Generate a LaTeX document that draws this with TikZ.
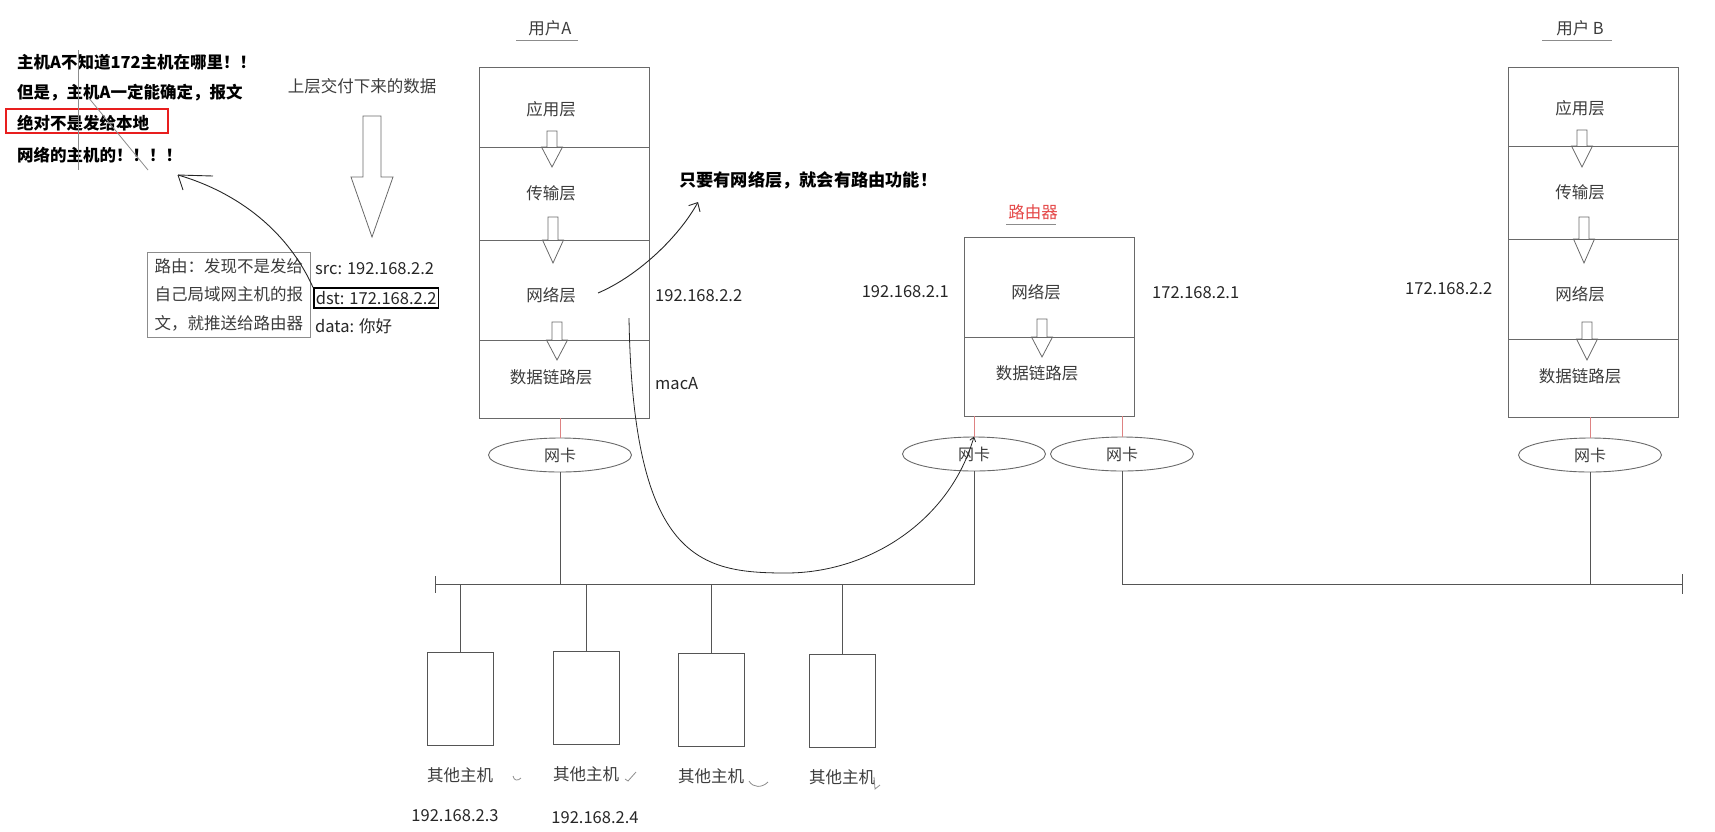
\documentclass[tikz,border=0pt]{standalone}
\usepackage{fontspec}
\setmainfont{Noto Sans CJK SC}
\usetikzlibrary{shapes.geometric}
\usetikzlibrary{positioning}
\usetikzlibrary{arrows.meta}
\definecolor{linegray}{RGB}{85,85,85}
\definecolor{boxgray}{RGB}{105,105,105}
\definecolor{txtgray}{RGB}{60,60,60}
\definecolor{nicred}{RGB}{222,130,130}
\definecolor{routered}{RGB}{228,72,72}
\definecolor{markred}{RGB}{232,30,30}
\tikzstyle{layer}=[draw=boxgray, line width=0.9pt, minimum width=170pt, inner sep=0pt]
\tikzstyle{lbl}=[inner sep=0pt, text=txtgray, font=\fontsize{16.5}{19}\selectfont]
\tikzstyle{ip}=[inner sep=0pt, text=black!85, font=\fontsize{16.5}{19}\selectfont]
\tikzstyle{note}=[inner sep=0pt, text=black, font=\bfseries\fontsize{16.5}{19}\selectfont]
\tikzstyle{nic}=[draw=boxgray, line width=0.9pt, ellipse, minimum width=143pt, minimum height=34pt, inner sep=0pt, text=txtgray, font=\fontsize{16}{19}\selectfont]
\tikzstyle{host}=[draw=linegray, line width=1pt, minimum width=66pt, minimum height=93pt, inner sep=0pt]
\tikzstyle{notebox}=[draw=black!45, line width=1pt, align=left, inner xsep=7pt, inner ysep=6pt, text=txtgray, font=\fontsize{16.5}{28.5}\selectfont]
\tikzstyle{wire}=[draw=linegray, line width=1pt]
\tikzstyle{redwire}=[draw=nicred, line width=0.9pt]
\tikzstyle{pen}=[draw=black!85, line width=0.9pt]
\tikzstyle{stray}=[draw=black!45, line width=0.8pt]
\tikzstyle{hollow}=[draw=boxgray, line width=0.8pt]
\newcommand{\hollowarrow}[6]{\draw[hollow] (#1-#5,#2) -- (#1+#5,#2) -- (#1+#5,#3) -- (#1+#6,#3) -- (#1,#4) -- (#1-#6,#3) -- (#1-#5,#3) -- cycle;}

\begin{document}
\begin{tikzpicture}[x=1pt, y=-1pt]
        \useasboundingbox (0,0) rectangle (1715,831);
        \node[note, anchor=west] (warn1) at (17,62)  {主机A不知道172主机在哪里！！};
        \node[note, anchor=west] (warn2) at (17,93)  {但是，主机A一定能确定，报文};
        \node[note, anchor=west] (warn3) at (17,123) {绝对不是发给本地};
        \node[note, anchor=west] (warn4) at (17,155) {网络的主机的！！！！};
        \draw[markred, line width=1.6pt] (6,109) rectangle (168,133);
        \draw[stray] (78,50) -- (78,170);
        \draw[stray] (88,97) -- (148,170);
        \node[lbl] (upper) at (362,86) {上层交付下来的数据};
        \hollowarrow{372}{116}{177}{237}{9}{21}
        \node[notebox, anchor=north west] (routing) at (147,252) {路由：发现不是发给\\自己局域网主机的报\\文，就推送给路由器};
        \node[ip, anchor=west] (src) at (315,269) {src: 192.168.2.2};
        \node[ip, anchor=west, draw=black, line width=1.8pt, inner xsep=2pt, inner ysep=3pt] (dst) at (313,298) {dst: 172.168.2.2};
        \node[ip, anchor=west] (data) at (315,326) {data: 你好};
        \coordinate (warntip) at (178,175);
        \draw[pen] (dst.north west) .. controls (285,225) and (230,190) .. (warntip);
        \draw[pen] (warntip) -- (213,176);
        \draw[pen] (warntip) -- (183,190);

        \node[lbl] (userA) at (550,28) {用户A};
        \draw[stray] ([xshift=-12pt,yshift=-5pt]userA.south west) -- ([xshift=6pt,yshift=-5pt]userA.south east);
        \node[layer, minimum height=80pt,  label={[lbl, xshift=-13pt, yshift=-2pt]center:应用层}]  (appA)   at (564,107)   {};
        \node[layer, minimum height=93pt,  label={[lbl, xshift=-13pt]center:传输层}]             (transA) at (564,193.5) {};
        \node[layer, minimum height=100pt, label={[lbl, xshift=-13pt, yshift=-5pt]center:网络层}]  (netA)   at (564,290)   {};
        \node[layer, minimum height=78pt,  label={[lbl, xshift=-13pt, yshift=2pt]center:数据链路层}] (linkA) at (564,379)   {};
        \hollowarrow{552}{131}{147}{167}{5}{10.5}
        \hollowarrow{553}{217}{240}{263}{5}{10.5}
        \hollowarrow{557}{322}{340}{360}{5}{10.5}
        \node[ip, anchor=west] (ipA)  at (655,296) {192.168.2.2};
        \node[ip, anchor=west] (macA) at (655,384) {macA};

        \node[note, anchor=west, font=\bfseries\fontsize{17.2}{19}\selectfont] (slogan) at (679,180) {只要有网络层，就会有路由功能！};
        \coordinate (netAout) at (598,293);
        \draw[pen, -{Straight Barb[length=7pt, width=13pt]}] (netAout) .. controls (640,275) and (680,235) .. ([xshift=19pt, yshift=-13pt]slogan.south west);

        \node[lbl, text=routered] (router) at (1033,212) {路由器};
        \draw[stray] ([xshift=-2pt,yshift=-5pt]router.south west) -- ([xshift=-2pt,yshift=-5pt]router.south east);
        \node[layer, minimum height=100pt, label={[lbl, xshift=-13pt, yshift=-5pt]center:网络层}]   (netR)  at (1049,287)   {};
        \node[layer, minimum height=79pt,  label={[lbl, xshift=-12pt, yshift=3pt]center:数据链路层}] (linkR) at (1049,376.5) {};
        \hollowarrow{1042}{319}{337}{357}{5}{10.5}
        \node[ip, anchor=east] (ipR1) at (949,292)  {192.168.2.1};
        \node[ip, anchor=west] (ipR2) at (1152,293) {172.168.2.1};

        \node[lbl] (userB) at (1580,28) {用户 B};
        \draw[stray] ([xshift=-14pt,yshift=-5pt]userB.south west) -- ([xshift=8pt,yshift=-5pt]userB.south east);
        \node[layer, minimum height=79pt,  label={[lbl, xshift=-13.5pt, yshift=-1.5pt]center:应用层}]  (appB)   at (1593.5,106.5) {};
        \node[layer, minimum height=93pt,  label={[lbl, xshift=-13.5pt]center:传输层}]               (transB) at (1593.5,192.5) {};
        \node[layer, minimum height=100pt, label={[lbl, xshift=-13.5pt, yshift=-5pt]center:网络层}]  (netB)   at (1593.5,289)   {};
        \node[layer, minimum height=78pt,  label={[lbl, xshift=-13.5pt, yshift=2pt]center:数据链路层}] (linkB) at (1593.5,378) {};
        \hollowarrow{1582}{130}{146}{167}{5}{10.5}
        \hollowarrow{1584}{217}{239}{263}{5}{10.5}
        \hollowarrow{1587}{322}{339}{360}{5}{10.5}
        \node[ip, anchor=west] (ipB) at (1405,289) {172.168.2.2};

        \node[nic] (nicA)  at (560,455)  {网卡};
        \node[nic] (nicR1) at (974,454)  {网卡};
        \node[nic] (nicR2) at (1122,454) {网卡};
        \node[nic] (nicB)  at (1590,455) {网卡};
        \draw[redwire] (nicA.north |- linkA.south) -- (nicA.north);
        \draw[redwire] (nicR1.north |- linkR.south) -- (nicR1.north);
        \draw[redwire] (nicR2.north |- linkR.south) -- (nicR2.north);
        \draw[redwire] (nicB.north |- linkB.south) -- (nicB.north);

        \coordinate (busL) at (435,584);
        \coordinate (busR) at (1682,584);
        \draw[wire] (nicR1.south) |- (busL);
        \draw[wire] (nicR2.south) |- (busR);
        \draw[wire] (nicA.south) -- (nicA.south |- busL);
        \draw[wire] (nicB.south) -- (nicB.south |- busR);
        \draw[wire] ([yshift=8pt]busL) -- ([yshift=-9pt]busL);
        \draw[wire] ([yshift=10pt]busR) -- ([yshift=-10pt]busR);

        \node[host] (host1) at (460,699) {};
        \node[host] (host2) at (586,698) {};
        \node[host] (host3) at (711,700) {};
        \node[host] (host4) at (842,701) {};
        \foreach \h in {1,...,4} {
            \draw[wire] (host\h.north) -- (host\h.north |- busL);
            \node[lbl, below=21pt of host\h] (hostlbl\h) {其他主机};
        }
        \node[ip] (ip3) at (455,816) {192.168.2.3};
        \node[ip] (ip4) at (595,818) {192.168.2.4};
        \draw[stray] (513,776) .. controls (514,781) and (518,781) .. (521,778);
        \draw[stray] (625,779) -- (628,781) -- (636,772);
        \draw[stray] (749,781) .. controls (753,788) and (762,788) .. (768,782);
        \draw[stray] (874,777) -- (875,789) -- (880,785);

        \coordinate (dropA) at (629,318);
        \draw[pen, line width=0.8pt, -{Straight Barb[length=4pt, width=6pt]}] (dropA) .. controls (633,560) and (700,573) .. (786,573) .. controls (870,573) and (950,520) .. (nicR1.north);
    \end{tikzpicture}
\end{document}
